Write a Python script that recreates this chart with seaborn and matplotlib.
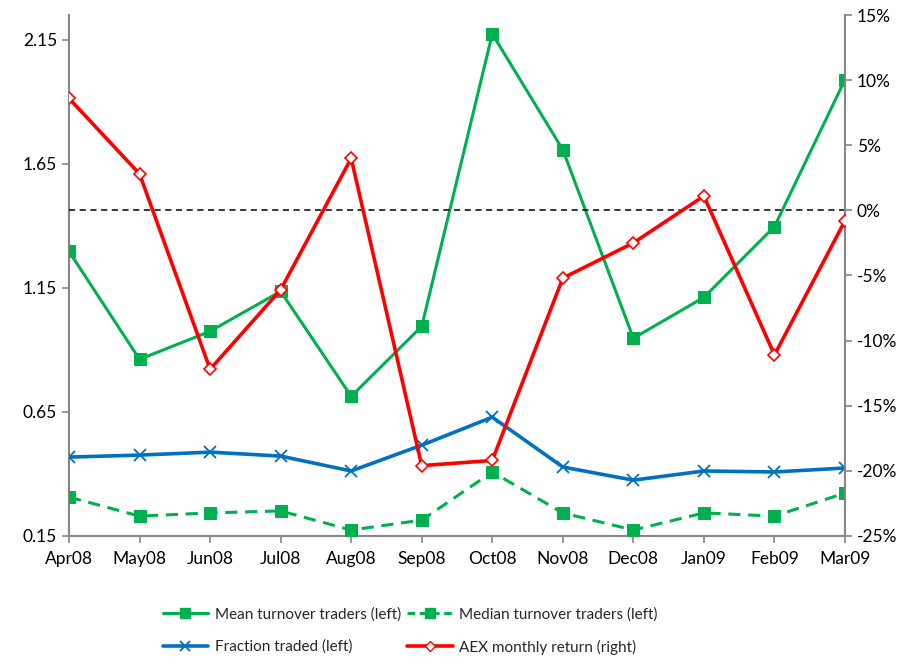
import matplotlib
matplotlib.use("Agg")
import matplotlib.pyplot as plt
import matplotlib.ticker as mticker
from matplotlib.lines import Line2D
import seaborn as sns
import pandas as pd

months = ["Apr08", "May08", "Jun08", "Jul08", "Aug08", "Sep08",
          "Oct08", "Nov08", "Dec08", "Jan09", "Feb09", "Mar09"]
mean_turnover = [1.297, 0.862, 0.975, 1.136, 0.713, 0.995,
                 2.174, 1.707, 0.947, 1.112, 1.397, 1.989]
median_turnover = [0.307, 0.230, 0.243, 0.251, 0.174, 0.214,
                   0.408, 0.243, 0.174, 0.243, 0.230, 0.323]
fraction_traded = [0.468, 0.476, 0.488, 0.472, 0.412, 0.516,
                   0.629, 0.428, 0.375, 0.412, 0.408, 0.424]
aex_return = [8.6, 2.8, -12.2, -6.1, 4.0, -19.6,
              -19.2, -5.2, -2.5, 1.1, -11.1, -0.8]  # percent

left_ticks = [0.15, 0.65, 1.15, 1.65, 2.15]
right_ticks = [-25, -20, -15, -10, -5, 0, 5, 10, 15]

sns.set_style("ticks")
plt.rcParams["font.family"] = ["Lato", "DejaVu Sans"]

df = pd.DataFrame({
    "pos": range(len(months)),
    "mean": mean_turnover,
    "median": median_turnover,
    "fraction": fraction_traded,
    "aex": aex_return,
})

green = "#00B050"
blue = "#0070C0"
red = "#FF0000"
grey = "#868686"

fig = plt.figure(figsize=(9.13, 6.64), dpi=100)
ax = fig.add_axes([0.0756, 0.1928, 0.8499, 0.7846])
ax2 = ax.twinx()

sns.lineplot(data=df, x="pos", y="mean", ax=ax, color=green, lw=2.2,
             marker="s", markersize=9, markeredgecolor=green, zorder=3)
sns.lineplot(data=df, x="pos", y="median", ax=ax, color=green, lw=2.2,
             linestyle=(0, (4, 2.5)), marker="s", markersize=9,
             markeredgecolor=green, zorder=3)
sns.lineplot(data=df, x="pos", y="fraction", ax=ax, color=blue, lw=2.6,
             marker="x", markersize=9, markeredgewidth=1.3,
             markeredgecolor=blue, zorder=3)

ax2.axhline(0, color="black", lw=1.1, linestyle=(0, (4, 3)), zorder=1)
sns.lineplot(data=df, x="pos", y="aex", ax=ax2, color=red, lw=2.6,
             marker="D", markersize=6, markerfacecolor="white",
             markeredgecolor=red, markeredgewidth=1.2, zorder=3)

ax.set_xlim(0, len(months) - 1)
ax.set_ylim(0.15, 2.25)
ax2.set_ylim(-25, 15)

ax.set_xticks(range(len(months)))
ax.set_xticklabels(months)
ax.set_yticks(left_ticks)
ax.set_yticklabels([f"{v:.2f}" for v in left_ticks])
ax2.set_yticks(right_ticks)
ax2.yaxis.set_major_formatter(mticker.FuncFormatter(lambda v, p: f"{v:.0f}%"))

for a in (ax, ax2):
    a.set_xlabel("")
    a.set_ylabel("")
    a.spines["top"].set_visible(False)
    for s in ("left", "right", "bottom"):
        a.spines[s].set_color(grey)
        a.spines[s].set_linewidth(1.5)
    a.tick_params(axis="both", colors=grey, labelcolor="black",
                  labelsize=12.5, length=5, width=1.2)
ax.spines["right"].set_visible(False)
ax2.spines["left"].set_visible(False)
ax2.spines["bottom"].set_visible(False)
ax.tick_params(axis="x", pad=6)

ax2.set_zorder(ax.get_zorder() + 1)
ax2.patch.set_visible(False)

# legend filled column-wise: left column = Mean / Fraction, right = Median / AEX
handles = [
    Line2D([], [], color=green, lw=2.2, marker="s", markersize=7),
    Line2D([], [], color=blue, lw=2.6, marker="x", markersize=7, markeredgewidth=1.3),
    Line2D([], [], color=green, lw=2.2, linestyle=(0, (2.5, 1.5)), marker="s", markersize=7),
    Line2D([], [], color=red, lw=2.6, marker="D", markersize=5,
           markerfacecolor="white", markeredgecolor=red),
]
labels = ["Mean turnover traders (left)", "Fraction traded (left)",
          "Median turnover traders (left)", "AEX monthly return (right)"]
fig.legend(handles, labels, loc="center", bbox_to_anchor=(0.449, 0.05),
           ncol=2, frameon=False, fontsize=11, handlelength=3.0,
           columnspacing=0.4, labelspacing=1.2, handletextpad=0.4)

fig.savefig("out.png", dpi=100)
